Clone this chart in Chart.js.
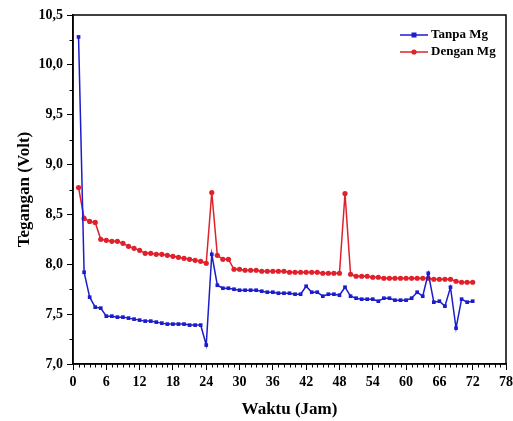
<!DOCTYPE html>
<html>
<head>
<meta charset="utf-8">
<script src="https://cdn.jsdelivr.net/npm/chart.js@4.4.1/dist/chart.umd.min.js"></script>
<style>
  body { margin: 0; background: #fff; }
  canvas { display: block; }
</style>
</head>
<body>
<canvas id="chart" width="513" height="421"></canvas>
<script>
// Waktu (jam)
const hours = [1,2,3,4,5,6,7,8,9,10,11,12,13,14,15,16,17,18,19,20,21,22,23,24,
  25,26,27,28,29,30,31,32,33,34,35,36,37,38,39,40,41,42,43,44,45,46,47,48,
  49,50,51,52,53,54,55,56,57,58,59,60,61,62,63,64,65,66,67,68,69,70,71,72];

// Tegangan (Volt)
const tanpaMg = [10.28,7.92,7.67,7.57,7.56,7.48,7.48,7.47,7.47,7.46,7.45,7.44,
  7.43,7.43,7.42,7.41,7.40,7.40,7.40,7.40,7.39,7.39,7.39,7.19,
  8.10,7.79,7.76,7.76,7.75,7.74,7.74,7.74,7.74,7.73,7.72,7.72,
  7.71,7.71,7.71,7.70,7.70,7.78,7.72,7.72,7.68,7.70,7.70,7.69,
  7.77,7.68,7.66,7.65,7.65,7.65,7.63,7.66,7.66,7.64,7.64,7.64,
  7.66,7.72,7.68,7.91,7.62,7.63,7.58,7.77,7.36,7.65,7.62,7.63];

const denganMg = [8.77,8.46,8.43,8.42,8.25,8.24,8.23,8.23,8.21,8.18,8.16,8.14,
  8.11,8.11,8.10,8.10,8.09,8.08,8.07,8.06,8.05,8.04,8.03,8.01,
  8.72,8.09,8.05,8.05,7.95,7.95,7.94,7.94,7.94,7.93,7.93,7.93,
  7.93,7.93,7.92,7.92,7.92,7.92,7.92,7.92,7.91,7.91,7.91,7.91,
  8.71,7.90,7.88,7.88,7.88,7.87,7.87,7.86,7.86,7.86,7.86,7.86,
  7.86,7.86,7.86,7.86,7.85,7.85,7.85,7.85,7.83,7.82,7.82,7.82];

const seriesNames = ['Tanpa Mg', 'Dengan Mg'];
const xTitle = 'Waktu (Jam)';
const yTitle = 'Tegangan (Volt)';

const BLUE = '#1c1ccc';
const RED = '#e0202a';
const FONT = "'Liberation Serif', 'Times New Roman', serif";

// frame on top/right + minor ticks (1 jam, 0.25 V)
const framePlugin = {
  id: 'frame',
  afterDraw(chart) {
    const { ctx, chartArea: a, scales: { x, y } } = chart;
    ctx.save();
    ctx.strokeStyle = '#000';
    ctx.lineWidth = 1.5;
    ctx.strokeRect(a.left, a.top, a.right - a.left, a.bottom - a.top);
    ctx.lineWidth = 1;
    ctx.beginPath();
    for (let v = x.min; v <= x.max; v += 1) {
      if (v % 6 === 0) continue;
      const px = Math.round(x.getPixelForValue(v)) + 0.5;
      ctx.moveTo(px, a.bottom);
      ctx.lineTo(px, a.bottom + 3.5);
    }
    for (let v = y.min; v <= y.max + 1e-9; v += 0.25) {
      if (Math.abs(v * 2 - Math.round(v * 2)) < 1e-6) continue;
      const py = Math.round(y.getPixelForValue(v)) + 0.5;
      ctx.moveTo(a.left, py);
      ctx.lineTo(a.left - 3.5, py);
    }
    ctx.stroke();
    ctx.restore();
  }
};

// legend: line with marker, top right
const legendPlugin = {
  id: 'lineLegend',
  afterDraw(chart) {
    const { ctx } = chart;
    ctx.save();
    ctx.font = 'bold 13px ' + FONT;
    ctx.textBaseline = 'middle';
    chart.data.datasets.forEach((ds, i) => {
      const yy = 35 + i * 17;
      ctx.strokeStyle = ds.borderColor;
      ctx.lineWidth = 1.5;
      ctx.beginPath();
      ctx.moveTo(400, yy);
      ctx.lineTo(428, yy);
      ctx.stroke();
      ctx.fillStyle = ds.borderColor;
      ctx.beginPath();
      if (ds.pointStyle === 'rect') ctx.rect(411.5, yy - 2.5, 5, 5);
      else ctx.arc(414, yy, 2.6, 0, Math.PI * 2);
      ctx.fill();
      ctx.fillStyle = '#000';
      ctx.fillText(ds.label, 431, yy);
    });
    ctx.restore();
  }
};

new Chart(document.getElementById('chart'), {
  type: 'line',
  data: {
    labels: hours,
    datasets: [
      {
        label: seriesNames[0],
        data: hours.map((h, i) => ({ x: h, y: tanpaMg[i] })),
        borderColor: BLUE, backgroundColor: BLUE,
        borderWidth: 1.5, pointStyle: 'rect', pointRadius: 2.6,
        pointBorderWidth: 0, tension: 0
      },
      {
        label: seriesNames[1],
        data: hours.map((h, i) => ({ x: h, y: denganMg[i] })),
        borderColor: RED, backgroundColor: RED,
        borderWidth: 1.5, pointStyle: 'circle', pointRadius: 2.6,
        pointBorderWidth: 0, tension: 0
      }
    ]
  },
  options: {
    responsive: false,
    animation: false,
    devicePixelRatio: 1,
    layout: { padding: { top: 15, right: 7, left: 0, bottom: 0 } },
    plugins: { legend: { display: false }, tooltip: { enabled: false } },
    scales: {
      x: {
        type: 'linear', min: 0, max: 78,
        afterFit: s => { s.height = 57; s.paddingLeft = 0; s.paddingRight = 0; },
        border: { display: true, color: '#000', width: 1.5 },
        grid: { drawOnChartArea: false, color: '#000', tickLength: 6, tickWidth: 1 },
        ticks: { stepSize: 6, padding: 4, color: '#000', maxRotation: 0,
                 font: { family: FONT, size: 14, weight: 'bold' } },
        title: { display: true, text: xTitle, color: '#000',
                 padding: { top: 0, bottom: 1 },
                 font: { family: FONT, size: 17, weight: 'bold' } }
      },
      y: {
        min: 7, max: 10.5,
        afterFit: s => { s.width = 73; s.paddingTop = 0; s.paddingBottom = 0; },
        border: { display: true, color: '#000', width: 1.5 },
        grid: { drawOnChartArea: false, color: '#000', tickLength: 6, tickWidth: 1 },
        ticks: { stepSize: 0.5, padding: 4, color: '#000',
                 callback: v => v.toFixed(1).replace('.', ','),
                 font: { family: FONT, size: 14, weight: 'bold' } },
        title: { display: true, text: yTitle, color: '#000',
                 padding: { top: 14, bottom: 0 },
                 font: { family: FONT, size: 17, weight: 'bold' } }
      }
    }
  },
  plugins: [framePlugin, legendPlugin]
});
</script>
</body>
</html>
